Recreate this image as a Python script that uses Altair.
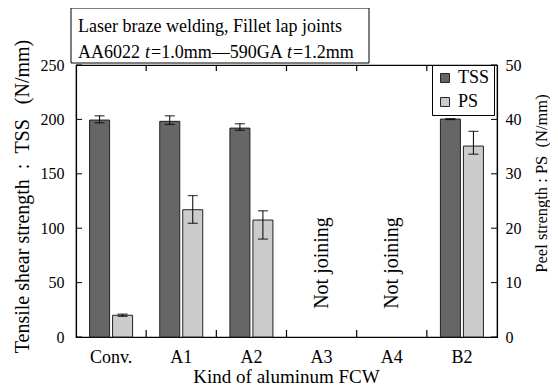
import altair as alt
import pandas as pd

# ---------------- data ----------------
categories = ["Conv.", "A1", "A2", "A3", "A4", "B2"]
series = ["TSS", "PS"]
tss_val = [199.4, 198.2, 192.0, None, None, 200.3]
tss_lo = [196.9, 195.4, 190.0, None, None, 199.9]
tss_hi = [203.3, 203.3, 196.0, None, None, 200.7]
ps_val = [4.0, 23.4, 21.5, None, None, 35.1]
ps_lo = [3.8, 20.9, 18.0, None, None, 33.6]
ps_hi = [4.2, 26.0, 23.2, None, None, 37.8]
not_joining = ["A3", "A4"]
tss_ticks = [0, 50, 100, 150, 200, 250]
ps_ticks = [0, 10, 20, 30, 40, 50]

tss_df = pd.DataFrame({"cat": categories, "val": tss_val, "lo": tss_lo, "hi": tss_hi}).dropna()
tss_df["series"] = "TSS"
ps_df = pd.DataFrame({"cat": categories, "val": ps_val, "lo": ps_lo, "hi": ps_hi}).dropna()
ps_df["series"] = "PS"
nj_df = pd.DataFrame({"cat": not_joining})
bnd_df = pd.DataFrame({"cat": categories[1:]})
tss_tick_df = pd.DataFrame({"v": tss_ticks})
ps_tick_df = pd.DataFrame({"v": ps_ticks})
one = pd.DataFrame({"a": [0]})

# ---------------- style ----------------
W, H = 421, 272
FONT = "Liberation Serif"
DARK = "#666666"
LIGHT = "#cccccc"
NB = "\u00a0"

x_scale = alt.Scale(domain=categories, paddingInner=0, paddingOuter=0)
x_axis = alt.Axis(orient="bottom", ticks=False, labelAngle=0, labelPadding=11,
                  labelFontSize=18, title="Kind of aluminum FCW", titleFontSize=19,
                  titleX=210, titleY=45, titleBaseline="alphabetic", titleAlign="center")
x_enc = alt.X("cat:N", scale=x_scale, axis=x_axis)
xo_enc = alt.XOffset("series:N", scale=alt.Scale(domain=series, paddingInner=0.13, paddingOuter=0.59))
color_enc = alt.Color("series:N", scale=alt.Scale(domain=series, range=[DARK, LIGHT]),
                      legend=alt.Legend(title=None, orient="none", legendX=356, legendY=0,
                                        strokeColor="black", fillColor="white", padding=4,
                                        symbolType="square", symbolSize=80,
                                        symbolStrokeColor="#222", symbolStrokeWidth=1,
                                        symbolOpacity=1, labelFont=FONT, labelFontSize=18,
                                        labelOffset=4, rowPadding=6, labelColor="black"))

tss_scale = alt.Scale(domain=[0, 250], nice=False, zero=True)
ps_scale = alt.Scale(domain=[0, 50], nice=False, zero=True)

left_axis = alt.Axis(orient="left", values=tss_ticks, ticks=False, labelPadding=12,
                     labelFontSize=16,
                     title="Tensile shear strength" + NB * 2 + ":" + NB * 2 + "TSS" + NB * 3 + "(N/mm)",
                     titleFontSize=20, titleAngle=270, titleX=-54, titleY=131,
                     titleAlign="center", titleBaseline="middle")
right_axis = alt.Axis(orient="right", values=ps_ticks, ticks=False, labelPadding=8,
                      labelFontSize=16, title="Peel strength" + NB + ":" + NB + "PS" + NB * 2 + "(N/mm)",
                      titleFontSize=16.5, titleAngle=270, titleX=44, titleY=118,
                      titleAlign="center", titleBaseline="middle")

# ---------------- left (TSS) ----------------
bars_tss = alt.Chart(tss_df).mark_bar(stroke="#222", strokeWidth=1).encode(
    x=x_enc, xOffset=xo_enc, y=alt.Y("val:Q", scale=tss_scale, axis=left_axis), color=color_enc)
rule_tss = alt.Chart(tss_df).mark_rule(color="black", strokeWidth=1).encode(
    x=x_enc, xOffset=xo_enc, y=alt.Y("lo:Q", scale=tss_scale, axis=left_axis), y2="hi:Q")
caplo_tss = alt.Chart(tss_df).mark_tick(color="black", size=10, thickness=1.3).encode(
    x=x_enc, xOffset=xo_enc, y=alt.Y("lo:Q", scale=tss_scale, axis=left_axis))
caphi_tss = alt.Chart(tss_df).mark_tick(color="black", size=10, thickness=1.3).encode(
    x=x_enc, xOffset=xo_enc, y=alt.Y("hi:Q", scale=tss_scale, axis=left_axis))
yt_tss = alt.Chart(tss_tick_df).mark_rule(color="black").encode(
    y=alt.Y("v:Q", scale=tss_scale, axis=left_axis), x=alt.value(0), x2=alt.value(6))
nj_text = alt.Chart(nj_df).mark_text(angle=270, font=FONT, fontSize=20, align="center",
                                     baseline="middle", color="black").encode(
    x=x_enc, y=alt.value(198), text=alt.value("Not joining"))
bt_bottom = alt.Chart(bnd_df).mark_rule(color="black", strokeWidth=1.2).encode(
    x=alt.X("cat:N", scale=x_scale, axis=x_axis, bandPosition=0), y=alt.value(H - 7), y2=alt.value(H))
bt_top = alt.Chart(bnd_df).mark_rule(color="black", strokeWidth=1.2).encode(
    x=alt.X("cat:N", scale=x_scale, axis=x_axis, bandPosition=0), y=alt.value(0), y2=alt.value(6))

# title box
TFS = 18
box = alt.Chart(one).mark_rect(fill="white", stroke="black", strokeWidth=1).encode(
    x=alt.value(-5), x2=alt.value(293), y=alt.value(-57), y2=alt.value(-2))
def tx(s, xpx, ypx, italic=False):
    return alt.Chart(one).mark_text(text=s, font=FONT, fontSize=TFS, align="left",
                                    baseline="alphabetic", color="black",
                                    fontStyle="italic" if italic else "normal").encode(
        x=alt.value(xpx), y=alt.value(ypx))
t1 = tx("Laser braze welding, Fillet lap joints", 2, -33)
t2a = tx("AA6022", 2, -7)
t2b = tx("t", 69, -7, True)
t2c = tx("=1.0mm\u2014590GA", 75, -7)
t2d = tx("t", 211, -7, True)
t2e = tx("=1.2mm", 217, -7)

left = alt.layer(bars_tss, rule_tss, caplo_tss, caphi_tss, yt_tss, nj_text, bt_bottom, bt_top,
                 box, t1, t2a, t2b, t2c, t2d, t2e)

# ---------------- right (PS) ----------------
bars_ps = alt.Chart(ps_df).mark_bar(stroke="#222", strokeWidth=1).encode(
    x=x_enc, xOffset=xo_enc, y=alt.Y("val:Q", scale=ps_scale, axis=right_axis), color=color_enc)
rule_ps = alt.Chart(ps_df).mark_rule(color="black", strokeWidth=1).encode(
    x=x_enc, xOffset=xo_enc, y=alt.Y("lo:Q", scale=ps_scale, axis=right_axis), y2="hi:Q")
caplo_ps = alt.Chart(ps_df).mark_tick(color="black", size=10, thickness=1.3).encode(
    x=x_enc, xOffset=xo_enc, y=alt.Y("lo:Q", scale=ps_scale, axis=right_axis))
caphi_ps = alt.Chart(ps_df).mark_tick(color="black", size=10, thickness=1.3).encode(
    x=x_enc, xOffset=xo_enc, y=alt.Y("hi:Q", scale=ps_scale, axis=right_axis))
yt_ps = alt.Chart(ps_tick_df).mark_rule(color="black").encode(
    y=alt.Y("v:Q", scale=ps_scale, axis=right_axis), x=alt.value(W - 6), x2=alt.value(W))

right = alt.layer(bars_ps, rule_ps, caplo_ps, caphi_ps, yt_ps)

chart = alt.layer(left, right).resolve_scale(y="independent").properties(
    width=W, height=H,
    padding={"left": 68, "top": 57, "right": 53, "bottom": 47},
    autosize=alt.AutoSizeParams(type="none"),
    background="white",
).configure_view(stroke="black", strokeWidth=1.2).configure_axis(
    grid=False, domainColor="black", domainWidth=1.2, labelFont=FONT, titleFont=FONT,
    labelColor="black", titleColor="black", titleFontWeight="normal"
)

chart.save("out.html", embed_options={"renderer": "svg", "actions": False})
